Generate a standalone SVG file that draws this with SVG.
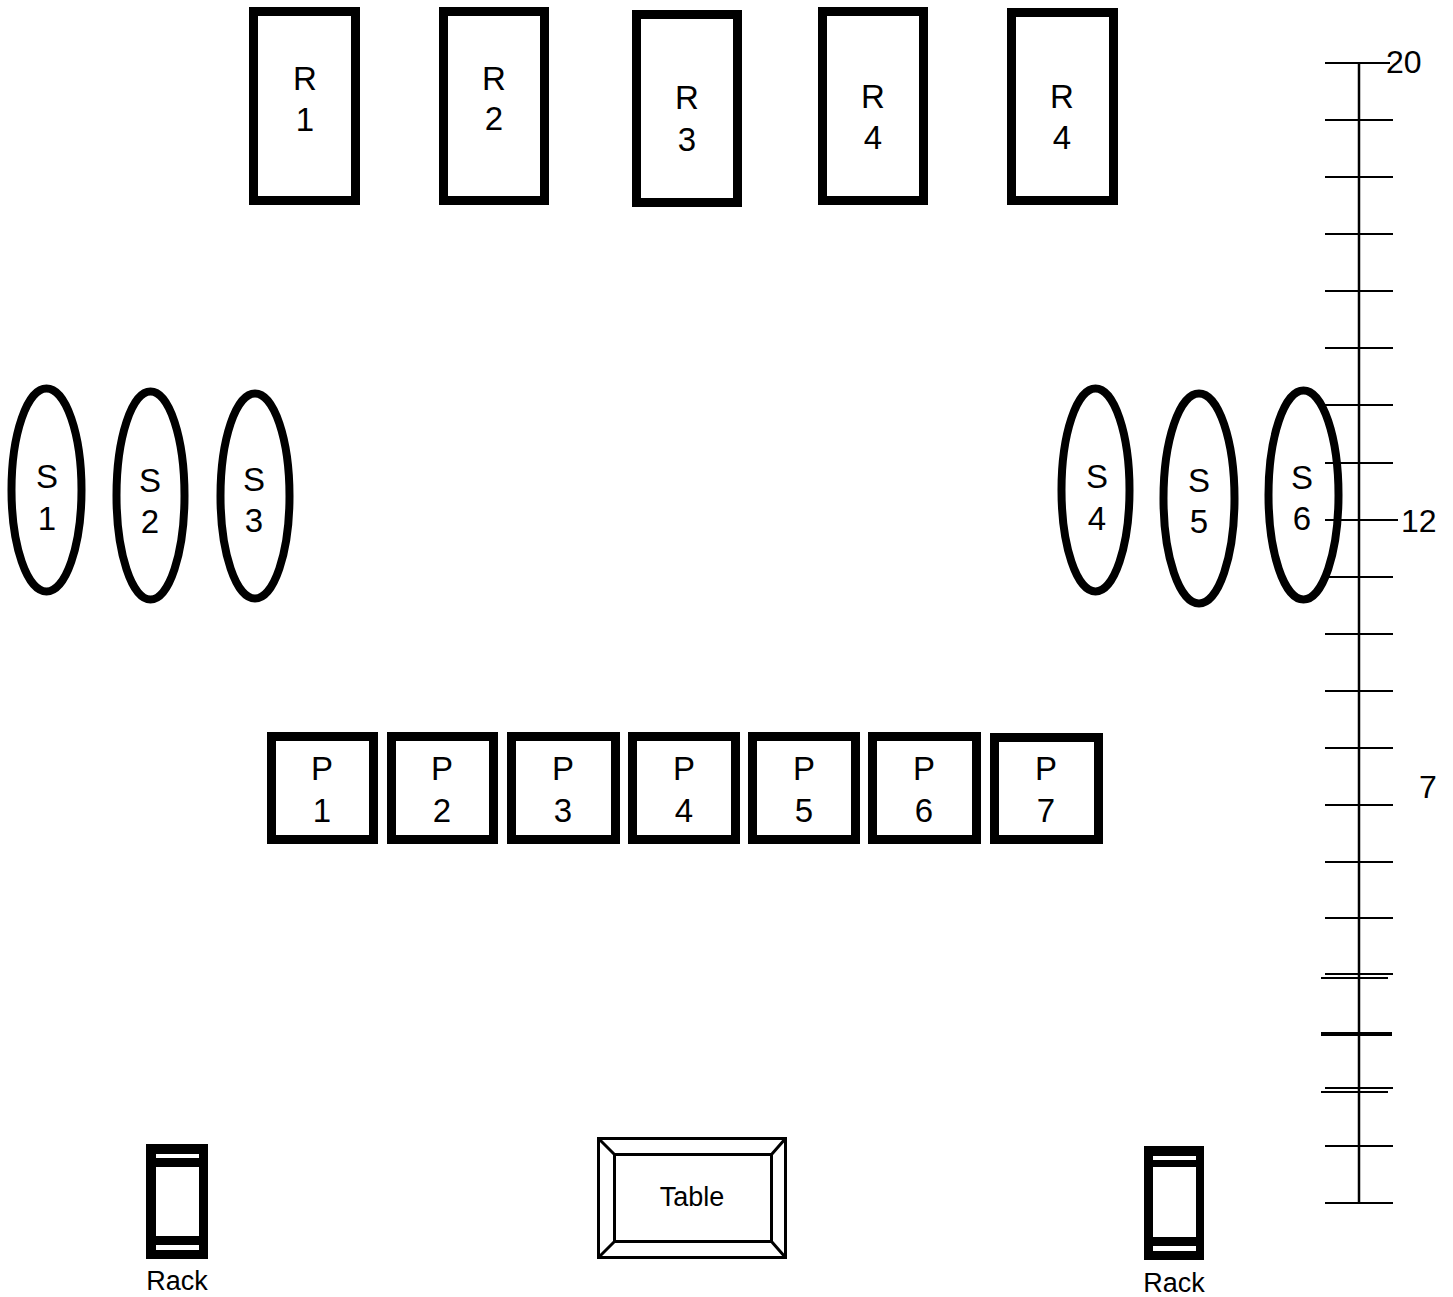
<svg xmlns="http://www.w3.org/2000/svg" width="1453" height="1297" viewBox="0 0 1453 1297">
<style>
  .box { fill: none; stroke: #000; stroke-width: 9; }
  .oval { fill: none; stroke: #000; stroke-width: 8; }
  .lbl { font-family: "Liberation Sans", Arial, sans-serif; font-size: 33px; fill: #000; text-anchor: middle; }
  .small { font-family: "Liberation Sans", Arial, sans-serif; font-size: 27px; fill: #000; text-anchor: middle; }
  .num { font-family: "Liberation Sans", Arial, sans-serif; font-size: 32px; fill: #000; }
  .tick { stroke: #000; stroke-width: 2; }
  .thin { fill: none; stroke: #000; stroke-width: 3; }
</style>
<rect width="1453" height="1297" fill="#fff"/>

<g id="R1"><rect class="box" x="253.5" y="11.5" width="102" height="189"/><text class="lbl" x="305" y="90">R</text><text class="lbl" x="305" y="131">1</text></g>
<g id="R2"><rect class="box" x="443.5" y="11.5" width="101" height="189"/><text class="lbl" x="494" y="90">R</text><text class="lbl" x="494" y="130">2</text></g>
<g id="R3"><rect class="box" x="636.5" y="14.5" width="101" height="188"/><text class="lbl" x="687" y="109">R</text><text class="lbl" x="687" y="151">3</text></g>
<g id="R4a"><rect class="box" x="822.5" y="11.5" width="101" height="189"/><text class="lbl" x="873" y="108">R</text><text class="lbl" x="873" y="149">4</text></g>
<g id="R4b"><rect class="box" x="1011.5" y="12.5" width="102" height="188"/><text class="lbl" x="1062" y="108">R</text><text class="lbl" x="1062" y="149">4</text></g>

<g id="S1"><ellipse class="oval" cx="46.5" cy="490" rx="35" ry="101.5"/><text class="lbl" x="47" y="488">S</text><text class="lbl" x="47" y="530">1</text></g>
<g id="S2"><ellipse class="oval" cx="150.5" cy="495.5" rx="34" ry="104"/><text class="lbl" x="150" y="492">S</text><text class="lbl" x="150" y="533">2</text></g>
<g id="S3"><ellipse class="oval" cx="255" cy="496" rx="34.5" ry="102.5"/><text class="lbl" x="254" y="491">S</text><text class="lbl" x="254" y="532">3</text></g>
<g id="S4"><ellipse class="oval" cx="1095.5" cy="490" rx="34" ry="101.5"/><text class="lbl" x="1097" y="488">S</text><text class="lbl" x="1097" y="530">4</text></g>
<g id="S5"><ellipse class="oval" cx="1199" cy="498.5" rx="35.5" ry="105"/><text class="lbl" x="1199" y="492">S</text><text class="lbl" x="1199" y="533">5</text></g>
<g id="S6"><ellipse class="oval" cx="1303.5" cy="495" rx="35" ry="104.5"/><text class="lbl" x="1302" y="489">S</text><text class="lbl" x="1302" y="530">6</text></g>

<g id="P1"><rect class="box" x="271.5" y="736.5" width="102" height="103"/><text class="lbl" x="322" y="780">P</text><text class="lbl" x="322" y="822">1</text></g>
<g id="P2"><rect class="box" x="391.5" y="736.5" width="102" height="103"/><text class="lbl" x="442" y="780">P</text><text class="lbl" x="442" y="822">2</text></g>
<g id="P3"><rect class="box" x="511.5" y="736.5" width="104" height="103"/><text class="lbl" x="563" y="780">P</text><text class="lbl" x="563" y="822">3</text></g>
<g id="P4"><rect class="box" x="632.5" y="736.5" width="103" height="103"/><text class="lbl" x="684" y="780">P</text><text class="lbl" x="684" y="822">4</text></g>
<g id="P5"><rect class="box" x="752.5" y="736.5" width="103" height="103"/><text class="lbl" x="804" y="780">P</text><text class="lbl" x="804" y="822">5</text></g>
<g id="P6"><rect class="box" x="872.5" y="736.5" width="104" height="103"/><text class="lbl" x="924" y="780">P</text><text class="lbl" x="924" y="822">6</text></g>
<g id="P7"><rect class="box" x="994.5" y="737.5" width="104" height="102"/><text class="lbl" x="1046" y="780">P</text><text class="lbl" x="1046" y="822">7</text></g>

<g id="table">
  <rect class="thin" x="598.5" y="1138.5" width="187" height="119"/>
  <rect class="thin" x="614.5" y="1154.5" width="157" height="87"/>
  <path class="thin" d="M598.5 1138.5 L614.5 1154.5 M785.5 1138.5 L771.5 1154.5 M598.5 1257.5 L614.5 1241.5 M785.5 1257.5 L771.5 1241.5"/>
  <text class="small" x="692" y="1206">Table</text>
</g>

<g id="rack-left">
  <rect x="146" y="1144" width="62" height="115" fill="#000"/>
  <rect x="156" y="1154" width="43" height="4" fill="#fff"/>
  <rect x="156" y="1167" width="43" height="69" fill="#fff"/>
  <rect x="156" y="1245" width="43" height="5" fill="#fff"/>
  <text class="small" x="177" y="1290">Rack</text>
</g>
<g id="rack-right">
  <rect x="1144" y="1146" width="60" height="114" fill="#000"/>
  <rect x="1153" y="1156" width="43" height="4" fill="#fff"/>
  <rect x="1153" y="1167" width="43" height="70" fill="#fff"/>
  <rect x="1153" y="1246" width="43" height="5" fill="#fff"/>
  <text class="small" x="1174" y="1292">Rack</text>
</g>

<g id="scale">
  <line x1="1359" y1="62" x2="1359" y2="1203" stroke="#000" stroke-width="2.5"/>
  <line class="tick" x1="1325" y1="63" x2="1390" y2="63"/>
  <line class="tick" x1="1325" y1="120" x2="1393" y2="120"/>
  <line class="tick" x1="1325" y1="177" x2="1393" y2="177"/>
  <line class="tick" x1="1325" y1="234" x2="1393" y2="234"/>
  <line class="tick" x1="1325" y1="291" x2="1393" y2="291"/>
  <line class="tick" x1="1325" y1="348" x2="1393" y2="348"/>
  <line class="tick" x1="1325" y1="405" x2="1393" y2="405"/>
  <line class="tick" x1="1325" y1="463" x2="1393" y2="463"/>
  <line class="tick" x1="1325" y1="520" x2="1398" y2="520"/>
  <line class="tick" x1="1325" y1="577" x2="1393" y2="577"/>
  <line class="tick" x1="1325" y1="634" x2="1393" y2="634"/>
  <line class="tick" x1="1325" y1="691" x2="1393" y2="691"/>
  <line class="tick" x1="1325" y1="748" x2="1393" y2="748"/>
  <line class="tick" x1="1325" y1="805" x2="1393" y2="805"/>
  <line class="tick" x1="1325" y1="862" x2="1393" y2="862"/>
  <line class="tick" x1="1325" y1="918" x2="1393" y2="918"/>
  <line class="tick" x1="1325" y1="974" x2="1393" y2="974"/>
  <line class="tick" x1="1321" y1="978" x2="1388" y2="978"/>
  <line x1="1321" y1="1034" x2="1392" y2="1034" stroke="#000" stroke-width="4"/>
  <line class="tick" x1="1325" y1="1088" x2="1393" y2="1088"/>
  <line class="tick" x1="1321" y1="1092" x2="1388" y2="1092"/>
  <line class="tick" x1="1325" y1="1146" x2="1393" y2="1146"/>
  <line class="tick" x1="1325" y1="1203" x2="1393" y2="1203"/>
  <text class="num" x="1386" y="73">20</text>
  <text class="num" x="1401" y="532">12</text>
  <text class="num" x="1419" y="798">7</text>
</g>
<g id="connectors"/>
</svg>
